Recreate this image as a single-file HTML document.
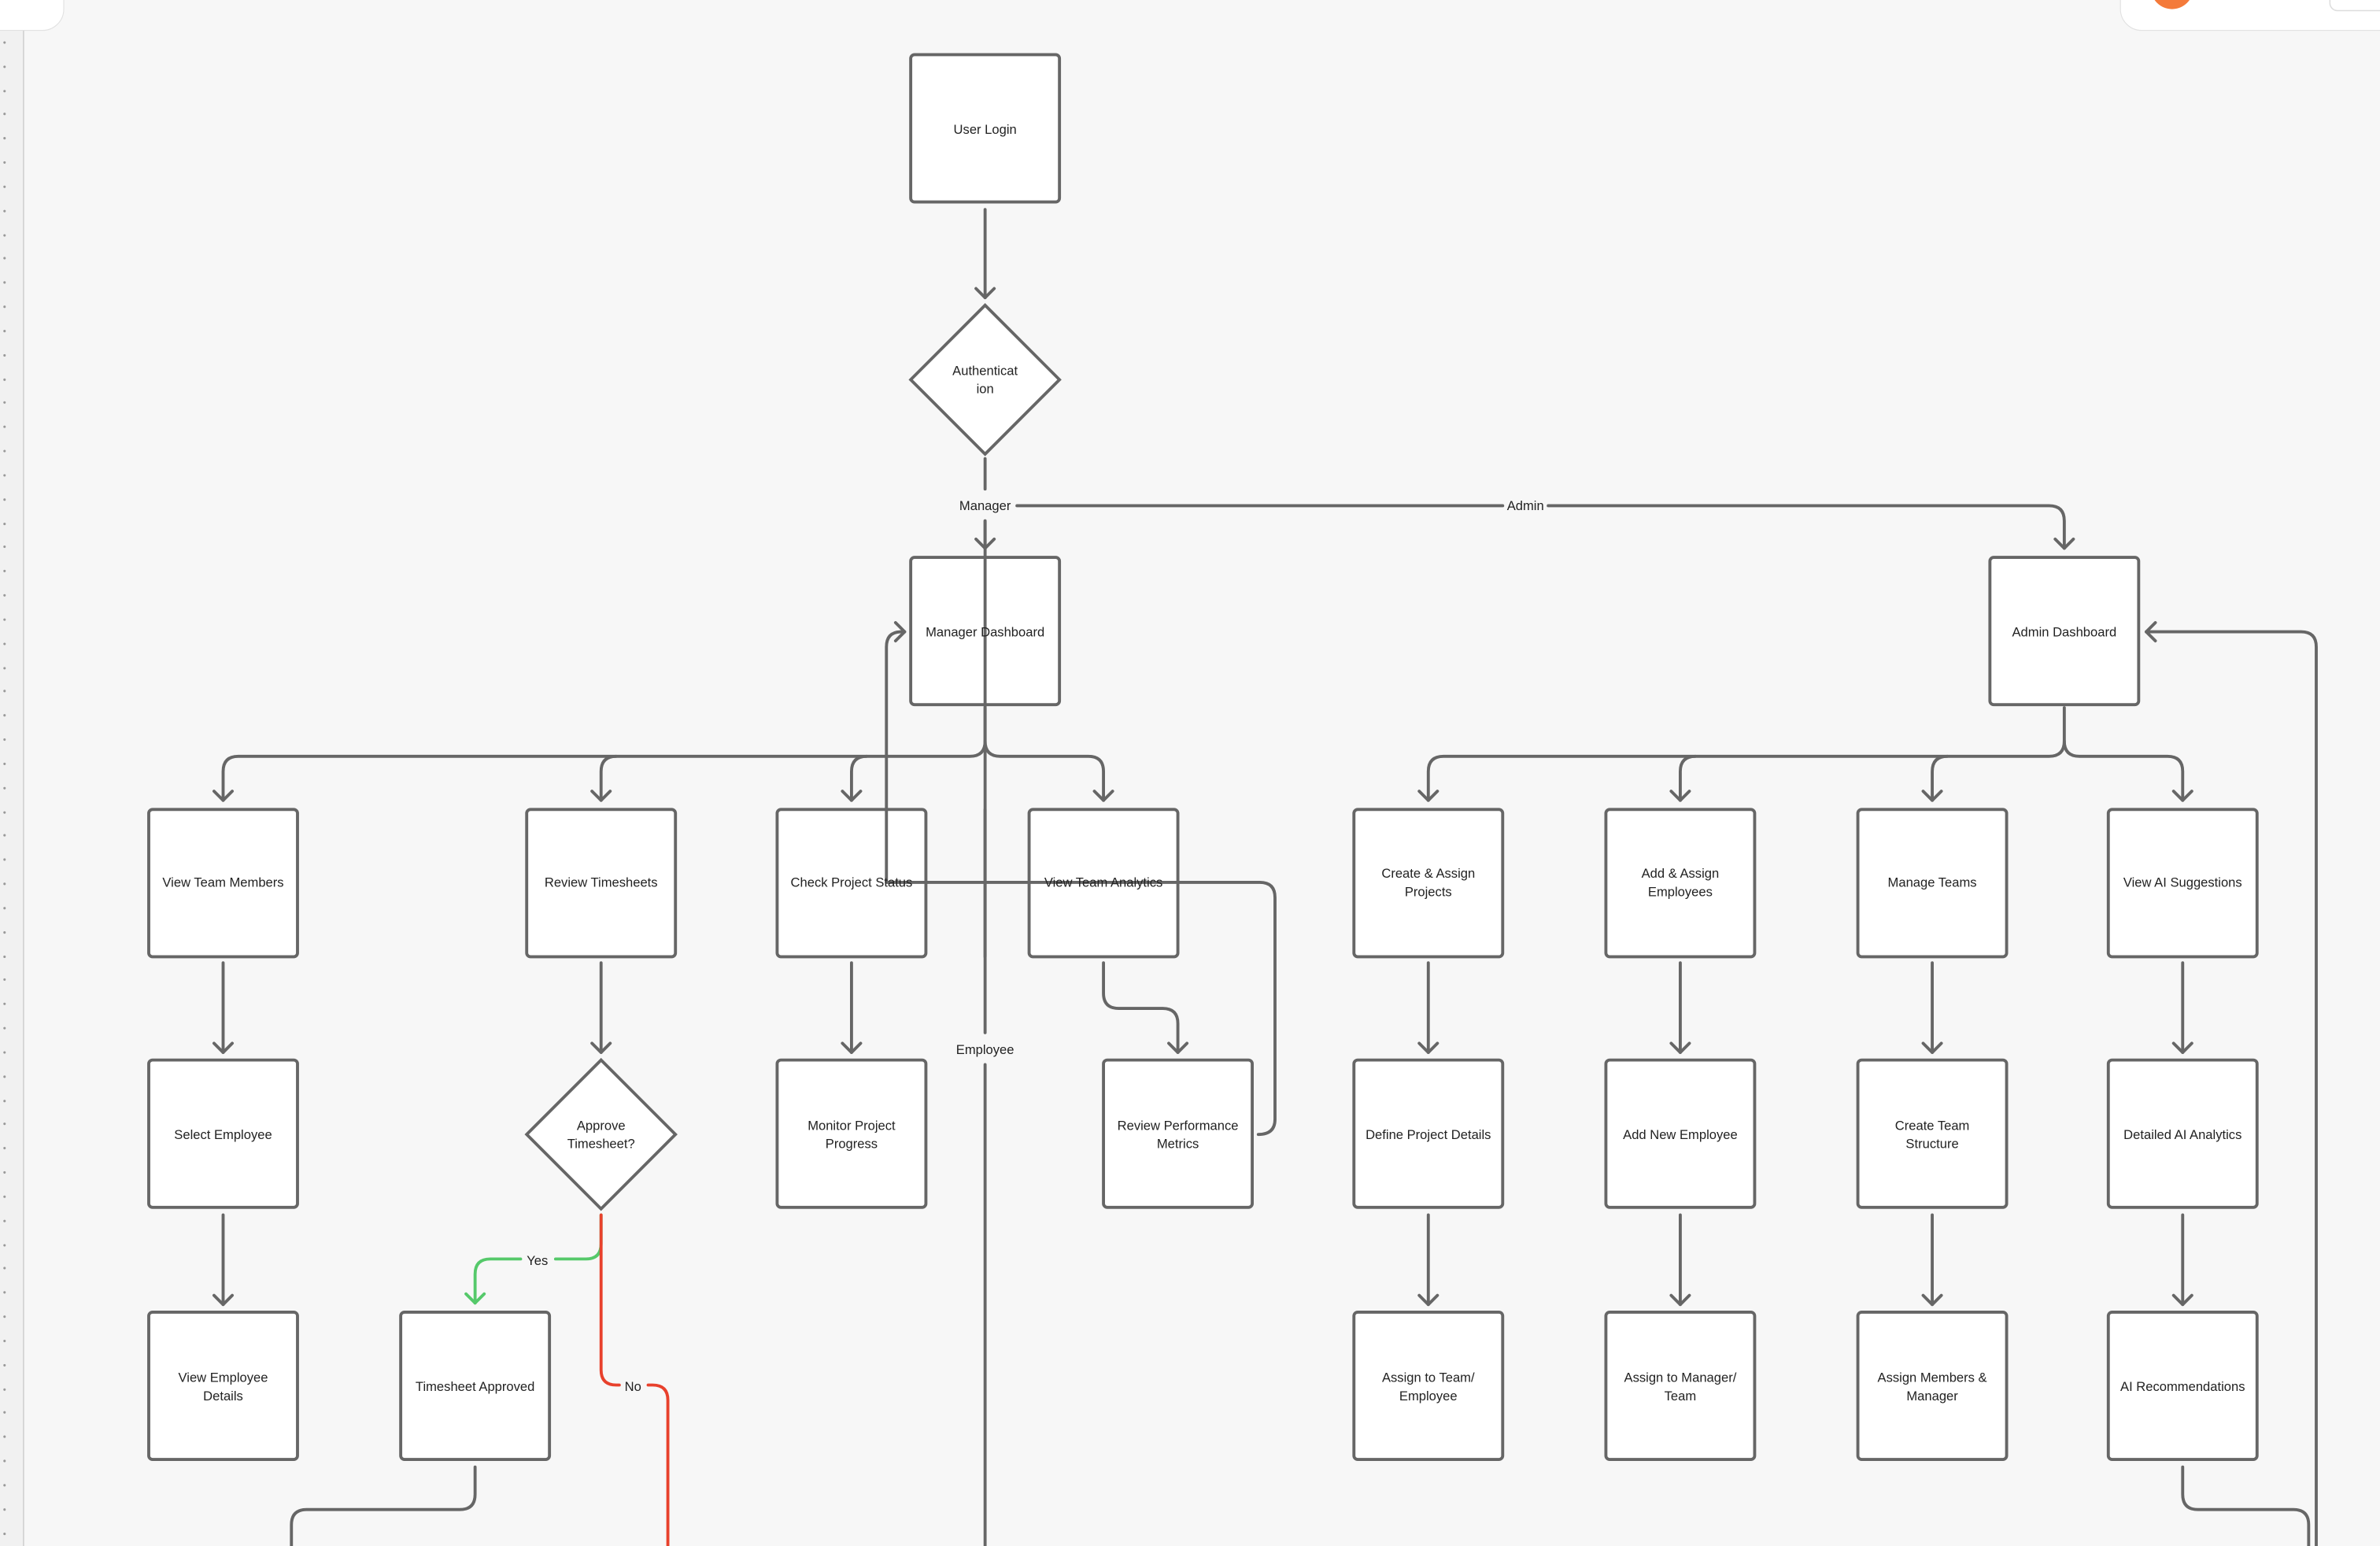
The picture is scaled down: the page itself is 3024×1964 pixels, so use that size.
<!DOCTYPE html>
<html><head><meta charset="utf-8"><style>
html,body{margin:0;padding:0;background:#f7f7f7;overflow:hidden}
svg{display:block}
text{font-family:"Liberation Sans",sans-serif;font-size:8.6px;fill:#222;text-anchor:middle}
.b{fill:#fff;stroke:#666;stroke-width:2}
.l{fill:none;stroke:#666;stroke-width:2;stroke-linecap:round;stroke-linejoin:round}
.g{fill:none;stroke:#55c96a;stroke-width:2;stroke-linecap:round;stroke-linejoin:round}
.r{fill:none;stroke:#e8412c;stroke-width:2;stroke-linecap:round;stroke-linejoin:round}
.lb{fill:#f7f7f7}
</style></head><body>
<svg width="3024" height="1964" viewBox="0 0 1568 1018" preserveAspectRatio="none" xmlns="http://www.w3.org/2000/svg">
<rect width="1568" height="1018" fill="#f7f7f7"/>
<!-- left ruler -->
<rect x="0" y="0" width="15.5" height="1018" fill="#f1f1f1"/>
<line x1="15.5" y1="0" x2="15.5" y2="1018" stroke="#cfcfcf" stroke-width="0.8"/>
<g fill="#999">
<circle cx="3" cy="28" r="0.8"/><circle cx="3" cy="44" r="0.8"/><circle cx="3" cy="60" r="0.8"/><circle cx="3" cy="75" r="0.8"/><circle cx="3" cy="91" r="0.8"/><circle cx="3" cy="107" r="0.8"/><circle cx="3" cy="123" r="0.8"/><circle cx="3" cy="139" r="0.8"/><circle cx="3" cy="155" r="0.8"/><circle cx="3" cy="170" r="0.8"/><circle cx="3" cy="186" r="0.8"/><circle cx="3" cy="202" r="0.8"/><circle cx="3" cy="218" r="0.8"/><circle cx="3" cy="234" r="0.8"/><circle cx="3" cy="250" r="0.8"/><circle cx="3" cy="265" r="0.8"/><circle cx="3" cy="281" r="0.8"/><circle cx="3" cy="297" r="0.8"/><circle cx="3" cy="313" r="0.8"/><circle cx="3" cy="329" r="0.8"/><circle cx="3" cy="345" r="0.8"/><circle cx="3" cy="360" r="0.8"/><circle cx="3" cy="376" r="0.8"/><circle cx="3" cy="392" r="0.8"/><circle cx="3" cy="408" r="0.8"/><circle cx="3" cy="424" r="0.8"/><circle cx="3" cy="440" r="0.8"/><circle cx="3" cy="455" r="0.8"/><circle cx="3" cy="471" r="0.8"/><circle cx="3" cy="487" r="0.8"/><circle cx="3" cy="503" r="0.8"/><circle cx="3" cy="519" r="0.8"/><circle cx="3" cy="535" r="0.8"/><circle cx="3" cy="550" r="0.8"/><circle cx="3" cy="566" r="0.8"/><circle cx="3" cy="582" r="0.8"/><circle cx="3" cy="598" r="0.8"/><circle cx="3" cy="614" r="0.8"/><circle cx="3" cy="630" r="0.8"/><circle cx="3" cy="645" r="0.8"/><circle cx="3" cy="661" r="0.8"/><circle cx="3" cy="677" r="0.8"/><circle cx="3" cy="693" r="0.8"/><circle cx="3" cy="709" r="0.8"/><circle cx="3" cy="725" r="0.8"/><circle cx="3" cy="740" r="0.8"/><circle cx="3" cy="756" r="0.8"/><circle cx="3" cy="772" r="0.8"/><circle cx="3" cy="788" r="0.8"/><circle cx="3" cy="804" r="0.8"/><circle cx="3" cy="820" r="0.8"/><circle cx="3" cy="835" r="0.8"/><circle cx="3" cy="851" r="0.8"/><circle cx="3" cy="867" r="0.8"/><circle cx="3" cy="883" r="0.8"/><circle cx="3" cy="899" r="0.8"/><circle cx="3" cy="915" r="0.8"/><circle cx="3" cy="930" r="0.8"/><circle cx="3" cy="946" r="0.8"/><circle cx="3" cy="962" r="0.8"/><circle cx="3" cy="978" r="0.8"/><circle cx="3" cy="994" r="0.8"/><circle cx="3" cy="1010" r="0.8"/>
</g>
<!-- top panels -->
<path d="M-5,-10 H42 V6 a14,14 0 0 1 -14,14 H-5 Z" fill="#fff" stroke="#e2e2e2" stroke-width="0.6"/>
<path d="M1397,-10 V6 a14,14 0 0 0 14,14 H1575 V-10 Z" fill="#fff" stroke="#e2e2e2" stroke-width="0.6"/>
<circle cx="1431" cy="-8" r="14" fill="#f47a3a"/>
<rect x="1535" y="-12" width="40" height="19" rx="5" fill="#fff" stroke="#ddd" stroke-width="0.8"/>

<!-- connectors -->
<path class="l" d="M649,138 V196"/><path class="l" d="M643,190 L649,196 L655,190"/>
<path class="l" d="M649,302 V322"/>
<path class="l" d="M649,343 V361"/><path class="l" d="M643,355 L649,361 L655,355"/>
<path class="l" d="M649,343 V680"/><path class="l" d="M649,701 V1020"/>
<path class="l" d="M670,333 H990"/><path class="l" d="M1020,333 H1350 Q1360,333 1360,343 V361"/><path class="l" d="M1354,355 L1360,361 L1366,355"/>
<!-- manager branches -->
<path class="l" d="M649,466 V488 Q649,498 639,498 H157 Q147,498 147,508 V527"/>
<path class="l" d="M406,498 Q396,498 396,508 V527"/>
<path class="l" d="M571,498 Q561,498 561,508 V527"/>
<path class="l" d="M649,488 Q649,498 659,498 H717 Q727,498 727,508 V527"/>
<path class="l" d="M141,521 L147,527 L153,521 M390,521 L396,527 L402,521 M555,521 L561,527 L567,521 M721,521 L727,527 L733,521"/>
<!-- admin branches -->
<path class="l" d="M1360,466 V488 Q1360,498 1350,498 H951 Q941,498 941,508 V527"/>
<path class="l" d="M1117,498 Q1107,498 1107,508 V527"/>
<path class="l" d="M1283,498 Q1273,498 1273,508 V527"/>
<path class="l" d="M1360,488 Q1360,498 1370,498 H1428 Q1438,498 1438,508 V527"/>
<path class="l" d="M935,521 L941,527 L947,521 M1101,521 L1107,527 L1113,521 M1267,521 L1273,527 L1279,521 M1432,521 L1438,527 L1444,521"/>
<!-- row1 -> row2 -->
<path class="l" d="M147,634 V693 M396,634 V693 M561,634 V693 M941,634 V693 M1107,634 V693 M1273,634 V693 M1438,634 V693"/>
<path class="l" d="M141,687 L147,693 L153,687 M390,687 L396,693 L402,687 M555,687 L561,693 L567,687 M935,687 L941,693 L947,687 M1101,687 L1107,693 L1113,687 M1267,687 L1273,693 L1279,687 M1432,687 L1438,693 L1444,687"/>
<path class="l" d="M727,634 V654 Q727,664 737,664 H766 Q776,664 776,674 V693"/><path class="l" d="M770,687 L776,693 L782,687"/>
<!-- row2 -> row3 -->
<path class="l" d="M147,800 V859 M941,800 V859 M1107,800 V859 M1273,800 V859 M1438,800 V859"/>
<path class="l" d="M141,853 L147,859 L153,853 M935,853 L941,859 L947,853 M1101,853 L1107,859 L1113,853 M1267,853 L1273,859 L1279,853 M1432,853 L1438,859 L1444,853"/>
<!-- loop back to manager dashboard -->
<path class="l" d="M829,747 Q840,747 840,737 V591 Q840,581 830,581 H594 Q584,581 584,571 V426 Q584,416 594,416 H596"/>
<path class="l" d="M590,410 L596,416 L590,422"/>
<!-- yes / no -->
<path class="g" d="M396,800 V819 Q396,829 386,829 H366"/>
<path class="g" d="M343,829 H323 Q313,829 313,839 V858"/><path class="g" d="M307,852 L313,858 L319,852"/>
<path class="r" d="M396,800 V902 Q396,912 406,912 H408"/>
<path class="r" d="M427,912 H430 Q440,912 440,922 V1020"/>
<!-- timesheet approved down -->
<path class="l" d="M313,966 V984 Q313,994 303,994 H202 Q192,994 192,1004 V1020"/>
<!-- AI recs -->
<path class="l" d="M1438,966 V984 Q1438,994 1448,994 H1511 Q1521,994 1521,1004 V1020"/>
<path class="l" d="M1526,1020 V426 Q1526,416 1516,416 H1414"/><path class="l" d="M1420,410 L1414,416 L1420,422"/>

<!-- labels -->
<text x="649" y="336">Manager</text>
<text x="1005" y="336">Admin</text>
<text x="649" y="694">Employee</text>
<text x="354" y="833">Yes</text>
<text x="417" y="916">No</text>

<!-- nodes -->
<rect class="b" x="600" y="36" width="98" height="97" rx="2.5"/><text x="649" y="88">User Login</text>
<path class="b" d="M649,201 L698,250 L649,299 L600,250 Z"/><text x="649" y="247">Authenticat</text><text x="649" y="259">ion</text>
<rect class="b" x="600" y="367" width="98" height="97" rx="2.5"/>
<path class="l" d="M649,367 V464"/>
<text x="649" y="419">Manager Dashboard</text>
<rect class="b" x="1311" y="367" width="98" height="97" rx="2.5"/><text x="1360" y="419">Admin Dashboard</text>

<rect class="b" x="98" y="533" width="98" height="97" rx="2.5"/><text x="147" y="584">View Team Members</text>
<rect class="b" x="347" y="533" width="98" height="97" rx="2.5"/><text x="396" y="584">Review Timesheets</text>
<rect class="b" x="512" y="533" width="98" height="97" rx="2.5"/>
<rect class="b" x="678" y="533" width="98" height="97" rx="2.5"/>
<path class="l" d="M584,533 V581 H610 M678,581 H776 M649,533 V630"/>
<text x="561" y="584">Check Project Status</text>
<text x="727" y="584">View Team Analytics</text>
<rect class="b" x="892" y="533" width="98" height="97" rx="2.5"/><text x="941" y="578">Create &amp; Assign</text><text x="941" y="590">Projects</text>
<rect class="b" x="1058" y="533" width="98" height="97" rx="2.5"/><text x="1107" y="578">Add &amp; Assign</text><text x="1107" y="590">Employees</text>
<rect class="b" x="1224" y="533" width="98" height="97" rx="2.5"/><text x="1273" y="584">Manage Teams</text>
<rect class="b" x="1389" y="533" width="98" height="97" rx="2.5"/><text x="1438" y="584">View AI Suggestions</text>

<rect class="b" x="98" y="698" width="98" height="97" rx="2.5"/><text x="147" y="750">Select Employee</text>
<path class="b" d="M396,698 L445,747 L396,796 L347,747 Z"/><text x="396" y="744">Approve</text><text x="396" y="756">Timesheet?</text>
<rect class="b" x="512" y="698" width="98" height="97" rx="2.5"/><text x="561" y="744">Monitor Project</text><text x="561" y="756">Progress</text>
<rect class="b" x="727" y="698" width="98" height="97" rx="2.5"/><text x="776" y="744">Review Performance</text><text x="776" y="756">Metrics</text>
<rect class="b" x="892" y="698" width="98" height="97" rx="2.5"/><text x="941" y="750">Define Project Details</text>
<rect class="b" x="1058" y="698" width="98" height="97" rx="2.5"/><text x="1107" y="750">Add New Employee</text>
<rect class="b" x="1224" y="698" width="98" height="97" rx="2.5"/><text x="1273" y="744">Create Team</text><text x="1273" y="756">Structure</text>
<rect class="b" x="1389" y="698" width="98" height="97" rx="2.5"/><text x="1438" y="750">Detailed AI Analytics</text>

<rect class="b" x="98" y="864" width="98" height="97" rx="2.5"/><text x="147" y="910">View Employee</text><text x="147" y="922">Details</text>
<rect class="b" x="264" y="864" width="98" height="97" rx="2.5"/><text x="313" y="916">Timesheet Approved</text>
<rect class="b" x="892" y="864" width="98" height="97" rx="2.5"/><text x="941" y="910">Assign to Team/</text><text x="941" y="922">Employee</text>
<rect class="b" x="1058" y="864" width="98" height="97" rx="2.5"/><text x="1107" y="910">Assign to Manager/</text><text x="1107" y="922">Team</text>
<rect class="b" x="1224" y="864" width="98" height="97" rx="2.5"/><text x="1273" y="910">Assign Members &amp;</text><text x="1273" y="922">Manager</text>
<rect class="b" x="1389" y="864" width="98" height="97" rx="2.5"/><text x="1438" y="916">AI Recommendations</text>
</svg>
</body></html>
